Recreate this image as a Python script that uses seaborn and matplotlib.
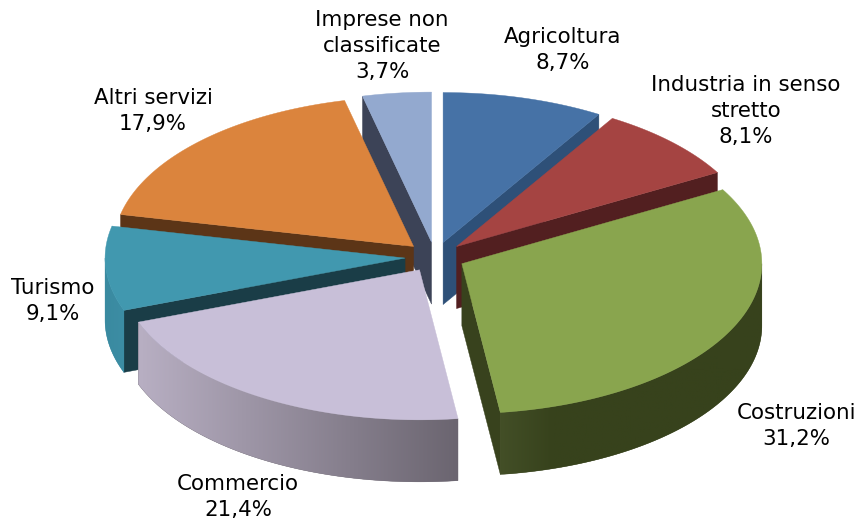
import numpy as np
import matplotlib
matplotlib.use("Agg")
import matplotlib.pyplot as plt
import seaborn as sns

labels = ["Agricoltura", "Industria in senso\nstretto", "Costruzioni", "Commercio",
          "Turismo", "Altri servizi", "Imprese non\nclassificate"]
shares = [8.7, 8.1, 31.2, 21.4, 9.1, 17.9, 3.7]

top_colors = ["#4672A6", "#A54442", "#89A54E", "#C8BFD8", "#4198AF", "#DB843D", "#93A9CF"]
wall_colors = ["#2E5078", "#521F20", "#38421D", "#6B6570", "#1A3D47", "#5C3517", "#3C4357"]
# colours of the outer side, from left to right on screen
side_colors = [["#2E5078", "#2E5078"], ["#521F20", "#521F20"],
               ["#434F27", "#37421C", "#37421C", "#37421C", "#37421C", "#37421C"],
               ["#B8AFC3", "#6B6570"], ["#3A8AA0", "#3C8DA4"], ["#5C3517", "#5C3517"],
               ["#3C4357", "#3C4357"]]

# layout in pixels of the 858x525 picture
cx, cy = 435, 257
rx, ry = 300, 150
explode_x, explode_y = 30, 15
depth = 62
label_xy = [(563, 50), (746, 111), (796, 426), (238, 497), (53, 301), (153, 111), (382, 46)]
draw_order = [6, 0, 1, 5, 4, 2, 3]


def ring(x0, y0, a):
    return x0 + rx * np.sin(a), y0 - ry * np.cos(a)


def draw_slice(ax, i, start, end, z):
    mid = (start + end) / 2
    x0 = cx + explode_x * np.sin(mid)
    y0 = cy - explode_y * np.cos(mid)

    # flat side walls, only the ones facing the viewer
    for a, visible in ((start, np.sin(start) < 0), (end, np.sin(end) > 0)):
        if visible:
            xe, ye = ring(x0, y0, a)
            ax.fill([x0, xe, xe, x0], [y0, ye, ye + depth, y0 + depth],
                    color=wall_colors[i], lw=0.3, zorder=z)

    # outer curved side, only the front half of the ellipse, gradient clipped to it
    lo, hi = max(start, np.pi / 2), min(end, 3 * np.pi / 2)
    if lo < hi:
        xs, ys = ring(x0, y0, np.linspace(lo, hi, 120))
        px = np.r_[xs, xs[::-1]]
        py = np.r_[ys, ys[::-1] + depth]
        patch = ax.fill(px, py, color=side_colors[i][-1], lw=0.3, zorder=z)[0]
        cmap = sns.blend_palette(side_colors[i], as_cmap=True)
        img = ax.imshow(np.linspace(0, 1, 256)[None, :], cmap=cmap, aspect="auto",
                        extent=(px.min(), px.max(), py.max(), py.min()), zorder=z + 0.1)
        img.set_clip_path(patch)

    xs, ys = ring(x0, y0, np.linspace(start, end, 120))
    ax.fill(np.r_[x0, xs], np.r_[y0, ys], color=top_colors[i], lw=0.3, zorder=z + 0.5)


if __name__ == "__main__":
    sns.set_style("white")
    plt.rcParams["font.family"] = "DejaVu Sans"

    fig = plt.figure(figsize=(8.58, 5.25), dpi=100)
    ax = fig.add_axes([0, 0, 1, 1])

    edges = np.r_[0, np.cumsum(shares)] / np.sum(shares) * 2 * np.pi
    for z, i in enumerate(draw_order):
        draw_slice(ax, i, edges[i], edges[i + 1], z)

    ax.set_xlim(0, 858)
    ax.set_ylim(525, 0)
    ax.axis("off")

    for name, share, (x, y) in zip(labels, shares, label_xy):
        text = f"{name}\n{share:.1f}%".replace(".", ",")
        ax.text(x, y, text, ha="center", va="center", fontsize=15.4, linespacing=1.36,
                color="black", zorder=20)

    fig.savefig("out.png", dpi=100)
    plt.close(fig)
